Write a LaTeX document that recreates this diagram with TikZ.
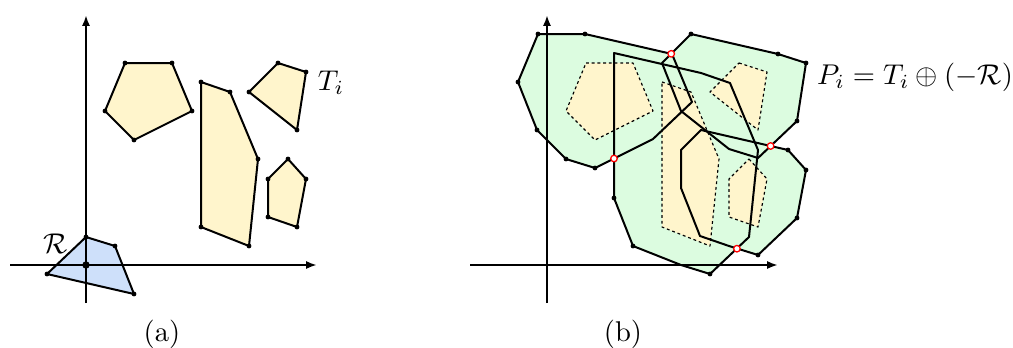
\documentclass[tikz,border=0pt]{standalone}
\usetikzlibrary{arrows.meta}
\definecolor{robotblue}{RGB}{206,224,250}
\definecolor{obstyellow}{RGB}{255,245,204}
\definecolor{cspacegreen}{RGB}{220,252,224}
\begin{document}
\begin{tikzpicture}[x=0.35pt, y=0.35pt, line join=round,
    axis/.style={line width=0.7pt, -{Latex[length=3.8pt, width=2.8pt]}},
    obstacle/.style={fill=obstyellow, draw, line width=0.7pt},
    ghost/.style={fill=obstyellow, draw, line width=0.4pt, dash pattern=on 1pt off 1pt},
    cspace/.style={draw, line width=0.7pt}]
    \useasboundingbox (0,0) rectangle (1013,347);
    % (a) workspace: robot R and obstacles T_i
    \begin{scope}[shift={(86,82)}]
        \fill[robotblue] (0,28) -- (29,19) -- (48,-29) -- (-39,-9) -- cycle;
        \draw[axis] (-76,0) -- (231,0);
        \draw[axis] (0,-38) -- (0,250);
        \draw[line width=0.7pt] (0,28) -- (29,19) -- (48,-29) -- (-39,-9) -- cycle;
        \draw[obstacle] (39,202) -- (86,202) -- (106,154) -- (48,125) -- (19,154) -- cycle;
        \draw[obstacle] (115,183) -- (144,173) -- (172,106) -- (163,19) -- (115,38) -- cycle;
        \draw[obstacle] (192,202) -- (220,193) -- (211,135) -- (163,173) -- cycle;
        \draw[obstacle] (202,106) -- (220,86) -- (211,38) -- (182,48) -- (182,86) -- cycle;
        % vertices
        \foreach \p in {(0,28),(29,19),(48,-29),(-39,-9),
                        (39,202),(86,202),(106,154),(48,125),(19,154),
                        (115,183),(144,173),(172,106),(163,19),(115,38),
                        (192,202),(220,193),(211,135),(163,173),
                        (202,106),(220,86),(211,38),(182,48),(182,86)} {
            \fill \p circle (0.85pt);
        }
        \fill (0,0) circle (1.3pt);
        \node (rlabel) at (-30,21) {$\mathcal{R}$};
        \node (tlabel) at (245,182) {$T_i$};
    \end{scope}
    \node (capa) at (162,13) {(a)};
    % (b) configuration space: P_i = T_i + (-R)
    \begin{scope}[shift={(547,82)}]
        \fill[cspacegreen] (48,97) -- (106,126) -- (145,163) -- (125,211) -- (38,231) -- (-9,231) -- (-29,183) -- (-10,135) -- (19,106) -- cycle;
        \fill[cspacegreen] (163,-9) -- (202,28) -- (211,115) -- (183,182) -- (154,192) -- (67,212) -- (67,67) -- (86,19) -- (134,0) -- cycle;
        \fill[cspacegreen] (211,107) -- (250,144) -- (259,202) -- (231,211) -- (144,231) -- (115,202) -- (134,154) -- (182,116) -- cycle;
        \fill[cspacegreen] (211,10) -- (250,47) -- (259,95) -- (241,115) -- (154,135) -- (134,115) -- (134,77) -- (153,29) -- (182,19) -- cycle;
        \draw[ghost] (39,202) -- (86,202) -- (106,154) -- (48,125) -- (19,154) -- cycle;
        \draw[ghost] (115,183) -- (144,173) -- (172,106) -- (163,19) -- (115,38) -- cycle;
        \draw[ghost] (192,202) -- (220,193) -- (211,135) -- (163,173) -- cycle;
        \draw[ghost] (202,106) -- (220,86) -- (211,38) -- (182,48) -- (182,86) -- cycle;
        \draw[axis] (-77,0) -- (231,0);
        \draw[axis] (0,-38) -- (0,250);
        \draw[cspace] (48,97) -- (106,126) -- (145,163) -- (125,211) -- (38,231) -- (-9,231) -- (-29,183) -- (-10,135) -- (19,106) -- cycle;
        \draw[cspace] (163,-9) -- (202,28) -- (211,115) -- (183,182) -- (154,192) -- (67,212) -- (67,67) -- (86,19) -- (134,0) -- cycle;
        \draw[cspace] (211,107) -- (250,144) -- (259,202) -- (231,211) -- (144,231) -- (115,202) -- (134,154) -- (182,116) -- cycle;
        \draw[cspace] (211,10) -- (250,47) -- (259,95) -- (241,115) -- (154,135) -- (134,115) -- (134,77) -- (153,29) -- (182,19) -- cycle;
        % vertices on the boundary of the union
        \foreach \p in {(48,97),(38,231),(-9,231),(-29,183),(-10,135),(19,106),
                        (163,-9),(67,67),(86,19),
                        (250,144),(259,202),(231,211),(144,231),
                        (211,10),(250,47),(259,95),(241,115)} {
            \fill \p circle (0.85pt);
        }
        % crossings of the boundaries
        \foreach \p in {(124.2,211.2),(67,106.5),(223.6,119),(189.9,16.3)} {
            \draw[red, fill=white, line width=0.45pt] \p circle (1.15pt);
        }
        \node (plabel) at (368,188) {$P_i = T_i \oplus (-\mathcal{R})$};
    \end{scope}
    \node (capb) at (623,13) {(b)};
\end{tikzpicture}
\end{document}
